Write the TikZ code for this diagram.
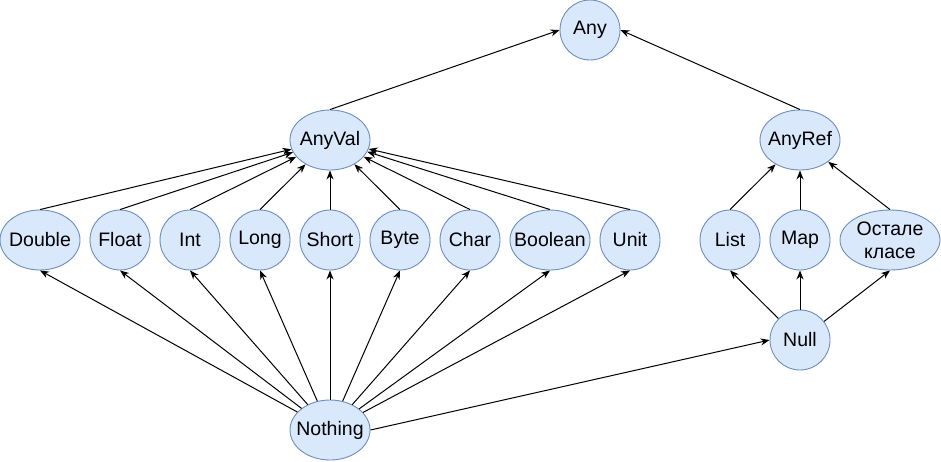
\documentclass[tikz,border=0pt]{standalone}
\usepackage{fontspec}
\setmainfont{Liberation Sans}
\usetikzlibrary{arrows.meta,shapes.geometric}
\definecolor{clsfill}{HTML}{DAE8FC}
\definecolor{clsline}{HTML}{6C8EBF}

\begin{document}
\begin{tikzpicture}[
  x=1pt,y=-1pt,
  cls/.style={ellipse, draw=clsline, fill=clsfill, line width=0.9pt, minimum width=60pt, minimum height=60pt, inner xsep=-10pt, inner ysep=0pt, font=\fontsize{19.5}{23}\selectfont, align=center},
  wcls/.style={cls, minimum width=80pt},
  xcls/.style={cls, minimum width=100pt},
  edge/.style={-{Stealth[length=9pt,width=7pt]}, draw=black, line width=1pt}
]
  \useasboundingbox (0,0) rectangle (941,461);

  \node[cls] (t1) at (590,30) {Any};
  \node[wcls] (v0) at (330,140) {AnyVal};
  \node[wcls] (r0) at (800,140) {AnyRef};

  \node[wcls] (v1) at (40,240) {Double};
  \node[cls] (v2) at (120,240) {Float};
  \node[cls] (v3) at (190,240) {Int};
  \node[cls] (v4) at (260,240) {Long};
  \node[cls] (v5) at (330,240) {Short};
  \node[cls] (v6) at (400,240) {Byte};
  \node[cls] (v7) at (470,240) {Char};
  \node[wcls] (v8) at (550,240) {Boolean};
  \node[cls] (v9) at (630,240) {Unit};

  \node[cls] (r1) at (730,240) {List};
  \node[cls] (r2) at (800,240) {Map};
  \node[xcls] (r3) at (890,240) {Остале\\класе};

  \node[cls] (z2) at (800,340) {Null};
  \node[wcls] (z1) at (330,430) {Nothing};

  \draw[edge] (v0.north) -- (t1.west);
  \draw[edge] (r0.north) -- (t1.east);

  \draw[edge] (v1.north) -- (v0);
  \draw[edge] (v2.north) -- (v0);
  \draw[edge] (v3.north) -- (v0);
  \draw[edge] (v4.north) -- (v0);
  \draw[edge] (v5.north) -- (v0);
  \draw[edge] (v6.north) -- (v0);
  \draw[edge] (v7.north) -- (v0);
  \draw[edge] (v8.north) -- (v0);
  \draw[edge] (v9.north) -- (v0);

  \draw[edge] (z1) -- (v1.south);
  \draw[edge] (z1) -- (v2.south);
  \draw[edge] (z1) -- (v3.south);
  \draw[edge] (z1) -- (v4.south);
  \draw[edge] (z1) -- (v5.south);
  \draw[edge] (z1) -- (v6.south);
  \draw[edge] (z1) -- (v7.south);
  \draw[edge] (z1) -- (v8.south);
  \draw[edge] (z1) -- (v9.south);
  \draw[edge] (z1.east) -- (z2.west);

  \draw[edge] (r1.north) -- (r0);
  \draw[edge] (r2.north) -- (r0);
  \draw[edge] (r3.north) -- (r0);

  \draw[edge] (z2) -- (r1.south);
  \draw[edge] (z2) -- (r2.south);
  \draw[edge] (z2) -- (r3.south);
\end{tikzpicture}
\end{document}
